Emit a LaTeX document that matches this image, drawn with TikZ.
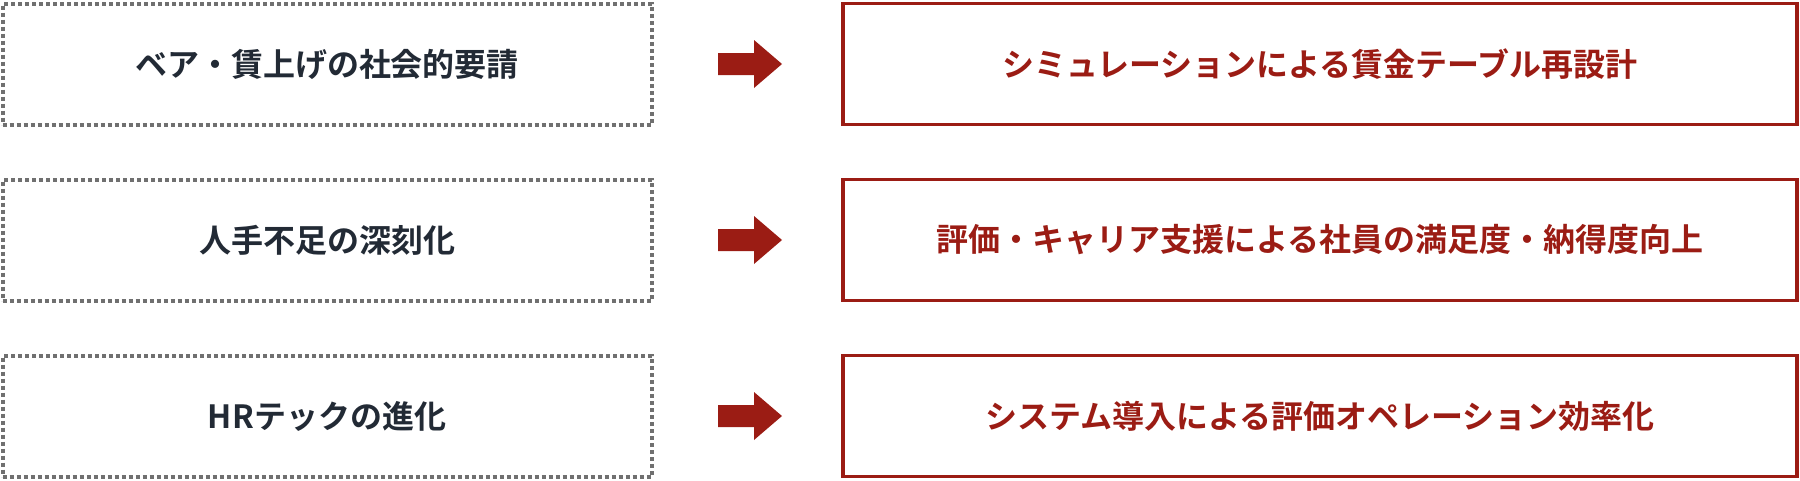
\documentclass[tikz,border=0pt]{standalone}
\usepackage{fontspec}
\newfontfamily\cjk{Noto Sans CJK JP}[BoldFont={Noto Sans CJK JP Bold}]
\definecolor{red1}{HTML}{9B1C14}
\definecolor{ink}{HTML}{222A35}
\definecolor{gr}{HTML}{707070}
\begin{document}
\begin{tikzpicture}[x=1pt,y=-1pt,
  lbox/.style={draw=gr,line width=4pt,dash pattern=on 4pt off 3pt,minimum width=649pt,minimum height=121pt,font=\cjk\bfseries\fontsize{32}{36}\selectfont,text=ink,inner sep=0pt},
  rbox/.style={draw=red1,line width=3.5pt,minimum width=954pt,minimum height=121pt,font=\cjk\bfseries\fontsize{32}{36}\selectfont,text=red1,inner sep=0pt},
  arr/.style={fill=red1}]
\useasboundingbox (0,0) rectangle (1800,480);
\foreach \i/\y/\a/\b in {1/64/ベア・賃上げの社会的要請/シミュレーションによる賃金テーブル再設計,
  2/240/人手不足の深刻化/評価・キャリア支援による社員の満足度・納得度向上,
  3/416/HRテックの進化/システム導入による評価オペレーション効率化}{
  \node[lbox] (l\i) at (327,\y) {\a};
  \node[rbox] (r\i) at (1320,\y) {\b};
  \coordinate (a\i) at (718,\y);
  \fill[arr] (a\i) ++(0,-11) -- ++(36,0) -- ++(0,-13) -- ++(28,24) -- ++(-28,24) -- ++(0,-13) -- ++(-36,0) -- cycle;
}
\end{tikzpicture}
\end{document}
